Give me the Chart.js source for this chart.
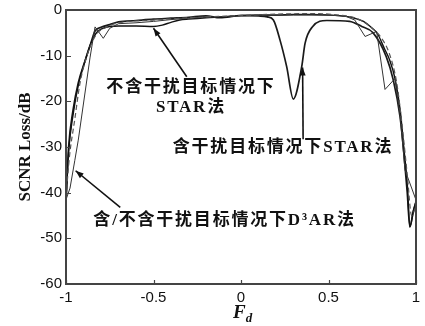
<!DOCTYPE html>
<html>
<head>
<meta charset="utf-8">
<script src="https://cdn.jsdelivr.net/npm/chart.js@4/dist/chart.umd.min.js"></script>
<style>
  html, body { margin: 0; padding: 0; background: #fff; }
  canvas { display: block; }
</style>
</head>
<body>
<canvas id="c" width="425" height="326"></canvas>
<script>
// Normalised Doppler frequency (Fd) and SCNR loss (dB) for each method
const fdStarClean = [-1, -0.985, -0.96, -0.93, -0.89, -0.86, -0.83, -0.8, -0.75, -0.7, -0.6, -0.5, -0.45, -0.4, -0.35, -0.3, -0.2, -0.1, 0, 0.1, 0.2, 0.3, 0.4, 0.5, 0.6, 0.65, 0.7, 0.75, 0.78, 0.82, 0.85, 0.88, 0.91, 0.93, 0.95, 0.965, 0.985, 1];
const lossStarClean = [-42, -31, -23, -16.5, -11, -7.5, -5.2, -4.2, -3.6, -3.5, -3.5, -3.6, -3.3, -2.7, -2.2, -2, -1.7, -1.5, -1.2, -1.1, -1.1, -1, -1, -1.1, -1.4, -1.8, -2.5, -4, -5.2, -8.5, -11, -15, -22, -30, -38, -47.5, -44, -42];

const fdStarJam = [-1, -0.985, -0.96, -0.93, -0.89, -0.86, -0.834, -0.8, -0.75, -0.7, -0.6, -0.5, -0.4, -0.3, -0.2, -0.12, 0, 0.1, 0.15, 0.185, 0.223, 0.261, 0.299, 0.347, 0.366, 0.41, 0.49, 0.62, 0.69, 0.755, 0.83, 0.87, 0.909, 0.93, 0.95, 0.965, 0.985, 1];
const lossStarJam = [-42, -30, -22, -16, -11, -7.5, -4.6, -3.8, -3.2, -2.6, -2.3, -2, -1.8, -1.6, -1.3, -1.7, -1.2, -1.3, -1.5, -2.2, -6.6, -12.4, -19.5, -12.4, -7.3, -3.6, -2.3, -2.5, -3.6, -5, -10.2, -15.3, -23.4, -31, -40, -47.5, -44, -42];

const fdD3arJam = [-1, -0.977, -0.95, -0.93, -0.863, -0.834, -0.787, -0.75, -0.7, -0.6, -0.5, -0.4, -0.3, -0.2, -0.1, 0, 0.1, 0.2, 0.3, 0.4, 0.5, 0.6, 0.65, 0.709, 0.775, 0.823, 0.88, 0.91, 0.937, 1];
const lossD3arJam = [-41.5, -39, -33, -28.5, -10.5, -3.7, -6.2, -4, -3, -2.8, -2.5, -2.1, -1.8, -1.6, -1.4, -1.3, -1.2, -1.2, -1.1, -1.1, -1.1, -1.4, -2.2, -5.8, -4.7, -17.4, -15, -23.5, -35, -41.6];

const fdD3arClean = [-1, -0.98, -0.95, -0.92, -0.88, -0.85, -0.82, -0.78, -0.72, -0.5, -0.3, 0, 0.2, 0.4, 0.5, 0.6, 0.65, 0.7, 0.75, 0.8, 0.85, 0.89, 0.92, 0.95, 0.975, 1];
const lossD3arClean = [-41, -32, -24, -16, -10, -7, -5, -4, -3, -2.2, -1.7, -1.2, -0.9, -0.8, -0.9, -1.3, -1.7, -2.6, -4, -6, -9.8, -16, -25, -36, -45, -43];

const xTickValues = [-1, -0.5, 0, 0.5, 1];
const yTickValues = [-60, -50, -40, -30, -20, -10, 0];

const pairs = (xs, ys) => xs.map((x, i) => ({ x: x, y: ys[i] }));

// Callout texts with the point each arrow indicates (data units)
const callouts = [
  { lines: ['不含干扰目标情况下', 'STAR法'], textX: -0.286, textY: -17.0, lineGap: 20,
    from: [-0.31, -14.6], to: [-0.5, -4.0] },
  { lines: ['含干扰目标情况下STAR法'], textX: 0.24, textY: -30.2, lineGap: 0,
    from: [0.355, -28.3], to: [0.352, -12.6] },
  { lines: ['含/不含干扰目标情况下D³AR法'], textX: -0.094, textY: -46.2, lineGap: 0,
    from: [-0.69, -43.2], to: [-0.945, -35.2] }
];

const decorations = {
  id: 'decorations',
  afterDatasetsDraw(chart) {
    const { ctx, chartArea: a, scales: { x, y } } = chart;
    ctx.save();
    // frame
    ctx.strokeStyle = '#444';
    ctx.lineWidth = 2;
    ctx.strokeRect(a.left, a.top, a.right - a.left, a.bottom - a.top);
    // inward tick marks on bottom and left
    ctx.lineWidth = 1.2;
    ctx.beginPath();
    xTickValues.forEach(v => {
      const px = Math.round(x.getPixelForValue(v)) + 0.5;
      ctx.moveTo(px, a.bottom); ctx.lineTo(px, a.bottom - 4);
    });
    yTickValues.forEach(v => {
      const py = Math.round(y.getPixelForValue(v)) + 0.5;
      ctx.moveTo(a.left, py); ctx.lineTo(a.left + 5, py);
    });
    ctx.stroke();

    // callouts
    ctx.fillStyle = '#111';
    ctx.strokeStyle = '#111';
    ctx.font = 'bold 17px "Liberation Serif", "Noto Sans CJK SC", serif';
    ctx.textAlign = 'center';
    ctx.textBaseline = 'middle';
    if ('letterSpacing' in ctx) ctx.letterSpacing = '1.8px';
    callouts.forEach(c => {
      const tx = x.getPixelForValue(c.textX);
      const ty = y.getPixelForValue(c.textY);
      c.lines.forEach((t, i) => ctx.fillText(t, tx, ty + i * c.lineGap));
      const x0 = x.getPixelForValue(c.from[0]), y0 = y.getPixelForValue(c.from[1]);
      const x1 = x.getPixelForValue(c.to[0]), y1 = y.getPixelForValue(c.to[1]);
      ctx.lineWidth = 1.6;
      ctx.beginPath(); ctx.moveTo(x0, y0); ctx.lineTo(x1, y1); ctx.stroke();
      const ang = Math.atan2(y1 - y0, x1 - x0);
      const L = 8, W = 3;
      ctx.beginPath();
      ctx.moveTo(x1, y1);
      ctx.lineTo(x1 - L * Math.cos(ang) + W * Math.sin(ang), y1 - L * Math.sin(ang) - W * Math.cos(ang));
      ctx.lineTo(x1 - L * Math.cos(ang) - W * Math.sin(ang), y1 - L * Math.sin(ang) + W * Math.cos(ang));
      ctx.closePath(); ctx.fill();
    });
    if ('letterSpacing' in ctx) ctx.letterSpacing = '0px';

    // x axis title: F with subscript d
    const cx = (a.left + a.right) / 2;
    ctx.textAlign = 'left';
    ctx.textBaseline = 'alphabetic';
    ctx.font = 'italic bold 19px "Liberation Serif", serif';
    const fw = ctx.measureText('F').width;
    ctx.fillText('F', cx - 8, 318);
    ctx.font = 'italic bold 13px "Liberation Serif", serif';
    ctx.fillText('d', cx - 8 + fw, 322);
    ctx.restore();
  }
};

new Chart(document.getElementById('c'), {
  type: 'line',
  data: {
    datasets: [
      { label: '不含干扰目标情况下D³AR法', data: pairs(fdD3arClean, lossD3arClean),
        borderColor: '#555', borderWidth: 1.2, borderDash: [5, 3], cubicInterpolationMode: 'monotone' },
      { label: '含干扰目标情况下D³AR法', data: pairs(fdD3arJam, lossD3arJam),
        borderColor: '#333', borderWidth: 1, tension: 0 },
      { label: '不含干扰目标情况下STAR法', data: pairs(fdStarClean, lossStarClean),
        borderColor: '#111', borderWidth: 1.4, cubicInterpolationMode: 'monotone' },
      { label: '含干扰目标情况下STAR法', data: pairs(fdStarJam, lossStarJam),
        borderColor: '#1a1a1a', borderWidth: 1.7, cubicInterpolationMode: 'monotone' }
    ]
  },
  options: {
    responsive: false,
    animation: false,
    devicePixelRatio: 1,
    parsing: false,
    normalized: true,
    elements: { point: { radius: 0 } },
    layout: { padding: { left: 15, right: 9, top: 10, bottom: 0 } },
    plugins: { legend: { display: false }, tooltip: { enabled: false } },
    scales: {
      x: {
        type: 'linear', min: -1, max: 1,
        afterBuildTicks: s => { s.ticks = xTickValues.map(v => ({ value: v })); },
        afterFit: s => { s.height = 42; s.paddingLeft = 0; s.paddingRight = 0; },
        grid: { display: false, drawTicks: false },
        border: { display: false },
        ticks: { padding: 5, color: '#111', font: { family: '"Liberation Sans", Arial, sans-serif', size: 15 },
          callback: v => String(v) }
      },
      y: {
        type: 'linear', min: -60, max: 0,
        afterBuildTicks: s => { s.ticks = yTickValues.map(v => ({ value: v })); },
        afterFit: s => { s.width = 51; s.paddingTop = 0; s.paddingBottom = 0; },
        grid: { display: false, drawTicks: false },
        border: { display: false },
        ticks: { padding: 4, color: '#111', font: { family: '"Liberation Sans", Arial, sans-serif', size: 15 },
          callback: v => String(v) },
        title: { display: true, text: 'SCNR Loss/dB', color: '#111', padding: 0,
          font: { family: '"Liberation Serif", serif', size: 17, weight: 'bold' } }
      }
    }
  },
  plugins: [decorations]
});
</script>
</body>
</html>
